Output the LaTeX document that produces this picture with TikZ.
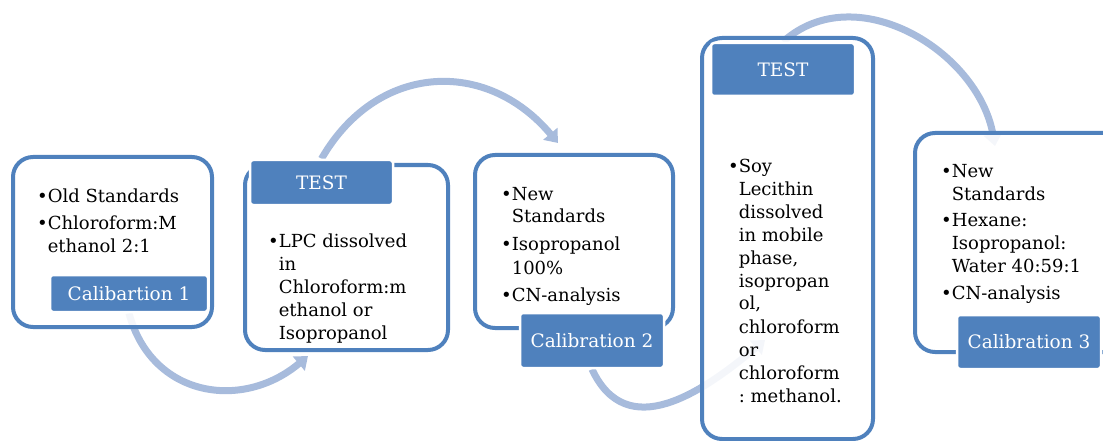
\documentclass[tikz,border=0pt]{standalone}
\usepackage{fontspec}
\setmainfont{DejaVu Serif}
\usetikzlibrary{arrows.meta,backgrounds}
\definecolor{boxblue}{RGB}{79,129,189}
\definecolor{arrowblue}{RGB}{167,187,220}
\newcommand\bl{\textbullet}
\newcommand\ind{\phantom{\textbullet}}
\newcommand\blist[1]{\begin{tabular}[t]{@{}l@{}}#1\end{tabular}}
\frenchspacing
\begin{document}
\begin{tikzpicture}[x=1pt,y=-1pt,
  box/.style={draw=boxblue, line width=4pt, rounded corners=20pt, fill=white, fill opacity=0.88, inner sep=0pt},
  lab/.style={fill=boxblue, draw=white, line width=2.5pt, rounded corners=3pt, text=white, font=\fontsize{18.5}{23}\selectfont, inner sep=0pt},
  txt/.style={anchor=base west, inner sep=0pt, font=\fontsize{18}{23}\selectfont},
  conn/.style={draw=arrowblue, line width=7pt, -{Triangle[length=12pt,width=18pt]}}]
\useasboundingbox (0,0) rectangle (1103,441);

% boxes
\node[box, minimum width=199pt, minimum height=170pt] (b1) at (112.5,242) {};
\node[box, minimum width=203pt, minimum height=185pt] (b2) at (346.5,257.5) {};
\node[box, minimum width=198pt, minimum height=173pt] (b3) at (574,241.5) {};
\node[box, minimum width=171pt, minimum height=401pt] (b4) at (787.5,238.5) {};
\node[box, minimum width=220pt, minimum height=219pt] (b5) at (1025,242.5) {};

% labels
\node[lab, minimum width=158pt, minimum height=37pt] (l1) at (129,293.5) {Calibartion 1};
\node[lab, minimum width=143pt, minimum height=45pt] (l2) at (321.5,182.5) {TEST};
\node[lab, minimum width=144pt, minimum height=55pt] (l3) at (592,340.5) {Calibration 2};
\node[lab, minimum width=144pt, minimum height=53pt] (l4) at (783,69.5) {TEST};
\node[lab, minimum width=144pt, minimum height=54pt] (l5) at (1029,342) {Calibration 3};

% texts
\node[txt] (t1) at (37,202) {\blist{\bl Old Standards\\[4pt] \bl Chloroform:M\\ \ind ethanol 2:1}};
\node[txt] (t2) at (268,247) {\blist{\bl LPC dissolved\\ \ind in\\ \ind Chloroform:m\\ \ind ethanol or\\ \ind Isopropanol}};
\node[txt] (t3) at (501,200) {\blist{\bl New\\ \ind Standards\\[5pt] \bl Isopropanol\\ \ind 100\%\\[4pt] \bl CN-analysis}};
\node[txt] (t4) at (728,172) {\blist{\bl Soy\\ \ind Lecithin\\ \ind dissolved\\ \ind in mobile\\ \ind phase,\\ \ind isopropan\\ \ind ol,\\ \ind chloroform\\ \ind or\\ \ind chloroform\\ \ind : methanol.}};
\node[txt] (t5) at (941,177) {\blist{\bl New\\ \ind Standards\\[4pt] \bl Hexane:\\ \ind Isopropanol:\\ \ind Water 40:59:1\\[4pt] \bl CN-analysis}};

% arrow ends
\coordinate (e1) at (308,356);
\coordinate (e2) at (558,143);
\coordinate (e3) at (765,340);
\coordinate (e4) at (995,146);

\begin{scope}[on background layer]
  \draw[conn] (l1.south) to[out=-75, in=-140, looseness=1.2] (e1);
  \draw[conn] (l2.north) to[out=60, in=130, looseness=1.2] (e2);
  \draw[conn] (l3.south) to[out=-65, in=-140, looseness=1.2] (e3);
  \draw[conn] (l4.north) to[out=42, in=100, looseness=1.05] (e4);
\end{scope}
\end{tikzpicture}
\end{document}
